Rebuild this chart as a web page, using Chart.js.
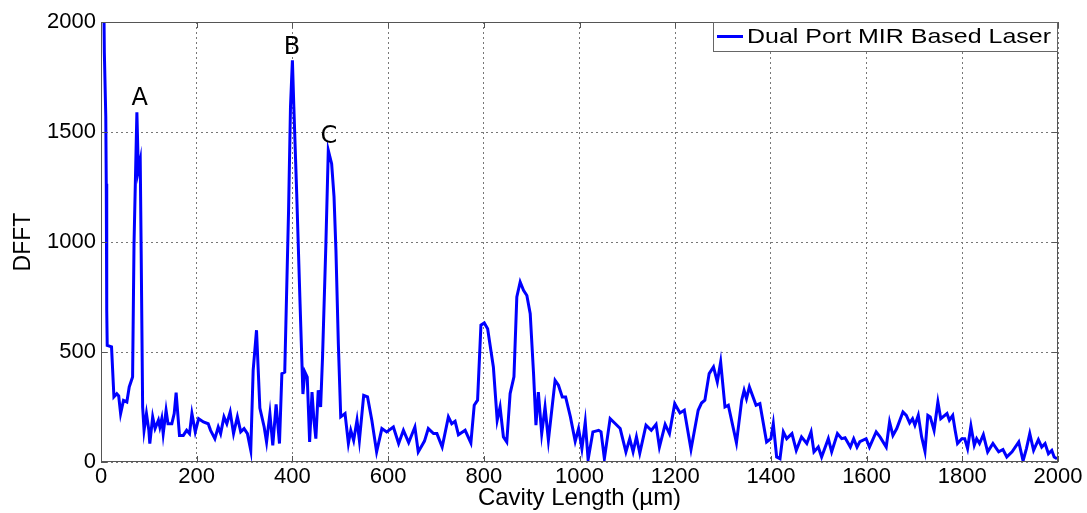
<!DOCTYPE html>
<html>
<head>
<meta charset="utf-8">
<script src="https://cdn.jsdelivr.net/npm/chart.js@4/dist/chart.umd.min.js"></script>
<style>
  html, body { margin: 0; padding: 0; background: #fff; }
  #wrap { width: 1087px; height: 513px; }
</style>
</head>
<body>
<div id="wrap"><canvas id="chart" width="1087" height="513"></canvas></div>
<script>
// cavity length (um) and DFFT amplitude
const cavityLength = [5, 7, 10, 11, 12, 13, 22, 27, 33, 37, 41, 47, 54, 59, 66, 69, 75, 78, 82, 84, 87, 90, 95, 100, 102, 108, 113, 120, 123, 127, 130, 136, 140, 148, 153, 157, 164, 172, 179, 185, 190, 197, 204, 214, 224, 229, 238, 245, 250, 257, 263, 270, 277, 285, 292, 299, 306, 313, 318, 325, 332, 341, 346, 353, 359, 366, 373, 378, 384, 392, 396, 400, 403, 409, 416, 422, 426, 431, 436, 441, 445, 449, 454, 459, 463, 470, 475, 482, 487, 491, 496, 501, 510, 517, 522, 528, 535, 540, 549, 557, 566, 576, 587, 597, 611, 622, 632, 643, 656, 663, 676, 684, 695, 702, 713, 726, 733, 740, 747, 761, 773, 780, 787, 794, 801, 808, 820, 828, 834, 841, 848, 855, 863, 869, 876, 883, 890, 897, 904, 909, 914, 921, 928, 935, 949, 956, 964, 971, 981, 991, 998, 1005, 1012, 1018, 1028, 1040, 1045, 1052, 1064, 1075, 1085, 1097, 1105, 1112, 1119, 1126, 1139, 1150, 1160, 1167, 1179, 1188, 1199, 1210, 1219, 1233, 1248, 1255, 1262, 1271, 1280, 1288, 1295, 1304, 1311, 1328, 1339, 1344, 1349, 1355, 1369, 1377, 1391, 1400, 1405, 1412, 1419, 1426, 1433, 1444, 1453, 1464, 1475, 1484, 1490, 1499, 1506, 1520, 1527, 1539, 1548, 1555, 1566, 1573, 1580, 1586, 1599, 1606, 1620, 1628, 1641, 1648, 1655, 1663, 1676, 1683, 1690, 1696, 1701, 1708, 1715, 1722, 1728, 1733, 1741, 1749, 1755, 1768, 1773, 1780, 1785, 1790, 1799, 1805, 1811, 1818, 1825, 1830, 1836, 1844, 1853, 1864, 1876, 1885, 1893, 1904, 1918, 1927, 1934, 1941, 1949, 1959, 1966, 1973, 1980, 1987, 1992, 1998];
const dfft = [2300, 1860, 1570, 1265, 690, 530, 523, 296, 310, 300, 220, 280, 273, 341, 386, 992, 1590, 1326, 1371, 947, 250, 144, 220, 144, 84, 205, 152, 190, 159, 197, 129, 235, 174, 174, 220, 315, 121, 121, 144, 129, 220, 137, 197, 182, 174, 144, 106, 159, 129, 205, 174, 227, 129, 205, 137, 152, 129, 53, 417, 599, 245, 159, 91, 220, 76, 262, 84, 402, 409, 1144, 1614, 1826, 1614, 1220, 720, 309, 409, 386, 91, 318, 190, 106, 326, 250, 477, 992, 1417, 1356, 1205, 962, 538, 205, 220, 84, 144, 98, 190, 98, 303, 296, 190, 46, 152, 137, 159, 84, 144, 88, 159, 46, 95, 152, 129, 129, 68, 205, 174, 185, 124, 144, 87, 258, 281, 622, 632, 606, 432, 190, 250, 114, 91, 311, 387, 750, 818, 780, 757, 674, 401, 167, 318, 129, 250, 99, 371, 349, 296, 296, 205, 94, 152, 61, 182, 11, 137, 144, 137, 15, 197, 174, 152, 46, 106, 46, 114, 40, 167, 144, 171, 68, 171, 129, 265, 223, 235, 57, 235, 268, 281, 402, 432, 364, 455, 250, 258, 87, 281, 326, 288, 341, 258, 265, 91, 106, 174, 23, 15, 137, 106, 129, 53, 114, 84, 137, 46, 68, 23, 106, 46, 129, 106, 110, 68, 106, 68, 93, 106, 68, 137, 114, 68, 182, 121, 152, 227, 212, 178, 197, 167, 212, 114, 49, 212, 205, 144, 273, 197, 220, 190, 212, 144, 84, 106, 106, 61, 164, 76, 106, 84, 124, 46, 84, 46, 57, 23, 46, 91, 5, 61, 129, 53, 102, 68, 84, 38, 53, 23, 15];
const xTicks = [0, 200, 400, 600, 800, 1000, 1200, 1400, 1600, 1800, 2000];
const yTicks = [0, 500, 1000, 1500, 2000];
const peakNames = ["A", "B", "C"];
const peakX = [81, 399, 476];
const peakY = [1650, 1885, 1478];
const seriesName = "Dual Port MIR Based Laser";

const points = cavityLength.map((x, i) => ({ x: x, y: dfft[i] }));
const FONT = "'Liberation Sans', Arial, sans-serif";

// frame, peak letters and the legend box drawn inside the axes
const extras = {
  id: "extras",
  afterDraw(chart) {
    const ctx = chart.ctx;
    const a = chart.chartArea;
    const xs = chart.scales.x, ys = chart.scales.y;
    ctx.save();
    ctx.strokeStyle = "#555";
    ctx.lineWidth = 1;
    ctx.strokeRect(a.left + 0.5, a.top + 0.5, a.right - a.left - 1, a.bottom - a.top - 1);
    // small inward ticks
    ctx.beginPath();
    xTicks.forEach(v => {
      const px = Math.round(xs.getPixelForValue(v)) + 0.5;
      ctx.moveTo(px, a.bottom); ctx.lineTo(px, a.bottom - 6);
      ctx.moveTo(px, a.top); ctx.lineTo(px, a.top + 6);
    });
    yTicks.forEach(v => {
      const py = Math.round(ys.getPixelForValue(v)) + 0.5;
      ctx.moveTo(a.left, py); ctx.lineTo(a.left + 6, py);
      ctx.moveTo(a.right, py); ctx.lineTo(a.right - 6, py);
    });
    ctx.stroke();

    ctx.fillStyle = "#000";
    ctx.font = "24px 'DejaVu Sans', sans-serif";
    ctx.textAlign = "center";
    ctx.textBaseline = "middle";
    peakNames.forEach((n, i) => {
      ctx.fillText(n, xs.getPixelForValue(peakX[i]), ys.getPixelForValue(peakY[i]));
    });

    // legend
    const lx = 713, ly = a.top, lw = a.right - 1 - lx, lh = 29;
    ctx.fillStyle = "#fff";
    ctx.fillRect(lx, ly, lw, lh);
    ctx.strokeStyle = "#666";
    ctx.lineWidth = 1;
    ctx.strokeRect(lx + 0.5, ly + 0.5, lw, lh);
    ctx.strokeStyle = "#0000ff";
    ctx.lineWidth = 3;
    ctx.beginPath();
    ctx.moveTo(717, ly + lh / 2);
    ctx.lineTo(743, ly + lh / 2);
    ctx.stroke();
    ctx.fillStyle = "#000";
    ctx.font = "21px " + FONT;
    ctx.textAlign = "left";
    const tw = ctx.measureText(seriesName).width;
    ctx.translate(747, ly + lh / 2 + 1);
    ctx.scale(304 / tw, 1);
    ctx.fillText(seriesName, 0, 0);
    ctx.restore();
  }
};

const chart = new Chart(document.getElementById("chart").getContext("2d"), {
  type: "line",
  data: {
    datasets: [{
      label: seriesName,
      data: points,
      borderColor: "#0000ff",
      borderWidth: 3,
      pointRadius: 0,
      tension: 0,
      fill: false
    }]
  },
  options: {
    responsive: false,
    animation: false,
    layout: { padding: { top: 22, right: 29, left: 0, bottom: 0 } },
    plugins: {
      legend: { display: false },
      tooltip: { enabled: false }
    },
    scales: {
      x: {
        type: "linear",
        min: 0,
        max: 2000,
        afterBuildTicks: s => { s.ticks = xTicks.map(v => ({ value: v })); },
        afterFit: s => { s.height = 51; },
        grid: { color: "#777", drawTicks: false, lineWidth: 1 },
        border: { display: false, dash: [2, 3] },
        ticks: { color: "#000", font: { family: FONT, size: 22 }, padding: 2, maxRotation: 0, callback: v => String(v) },
        title: { display: true, text: "Cavity Length (µm)", color: "#000", font: { family: FONT, size: 24 }, padding: { top: -3, bottom: 0 } }
      },
      y: {
        min: 0,
        max: 2000,
        afterBuildTicks: s => { s.ticks = yTicks.map(v => ({ value: v })); },
        afterFit: s => { s.width = 101; },
        grid: { color: "#777", drawTicks: false, lineWidth: 1 },
        border: { display: false, dash: [2, 3] },
        ticks: { color: "#000", font: { family: FONT, size: 22 }, padding: 5, callback: v => String(v) },
        title: { display: true, text: "DFFT", color: "#000", font: { family: FONT, size: 23 }, padding: { top: 10, bottom: 4 } }
      }
    }
  },
  plugins: [extras]
});
</script>
</body>
</html>
